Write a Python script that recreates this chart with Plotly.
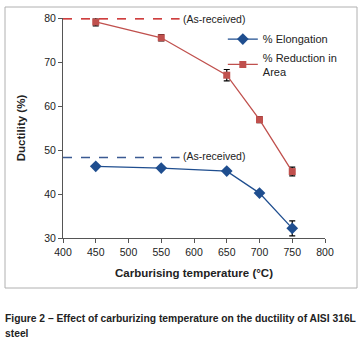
import plotly.graph_objects as go

temps = [450, 550, 650, 700, 750]
elongation = [46.3, 45.9, 45.2, 40.2, 32.2]
elong_err = [0, 0, 0, 0, 1.7]
reduction = [79.1, 75.5, 67.0, 56.9, 45.1]
red_err = [0.9, 0.7, 1.3, 0.7, 1.0]
asrec_reduction = 79.8
asrec_elongation = 48.3
x_ticks = [400, 450, 500, 550, 600, 650, 700, 750, 800]
y_ticks = [30, 40, 50, 60, 70, 80]

BLUE = "#1F4E8F"
RED = "#C0504D"
FONT = "Liberation Sans, Arial, sans-serif"

fig = go.Figure()
fig.add_trace(go.Scatter(
    x=temps, y=elongation, mode="lines+markers", name="% Elongation",
    line=dict(color=BLUE, width=1.3),
    marker=dict(symbol="diamond", size=9, color=BLUE),
    error_y=dict(type="data", array=elong_err, color="black", thickness=1.2, width=3),
))
fig.add_trace(go.Scatter(
    x=temps, y=reduction, mode="lines+markers", name="% Reduction in<br>Area",
    line=dict(color=RED, width=1.3),
    marker=dict(symbol="square", size=7, color=RED),
    error_y=dict(type="data", array=red_err, color="black", thickness=1.2, width=3),
))

# As-received reference lines
fig.add_trace(go.Scatter(x=[400, 578], y=[asrec_reduction] * 2, mode="lines",
                         line=dict(color="#C00000", width=1.3, dash="dash"),
                         showlegend=False, hoverinfo="skip"))
fig.add_trace(go.Scatter(x=[400, 578], y=[asrec_elongation] * 2, mode="lines",
                         line=dict(color="#3A5A92", width=1.3, dash="dash"),
                         showlegend=False, hoverinfo="skip"))
fig.add_annotation(x=580, y=asrec_reduction, text="(As-received)", showarrow=False,
                   xanchor="left", yanchor="middle", font=dict(size=10.5, color="#222"))
fig.add_annotation(x=580, y=asrec_elongation + 0.3, text="(As-received)", showarrow=False,
                   xanchor="left", yanchor="middle", font=dict(size=10.5, color="#222"))

# outer box
fig.add_shape(type="rect", xref="paper", yref="paper",
              x0=-58 / 262, x1=294 / 262, y0=-50 / 220, y1=231 / 220,
              line=dict(color="#B0B0B0", width=1), fillcolor="rgba(0,0,0,0)", layer="below")

# caption
fig.add_annotation(xref="paper", yref="paper", x=-60 / 262, y=-80 / 220,
                   text="<b>Figure 2 – Effect of carburizing temperature on the ductility of AISI 316L</b>",
                   showarrow=False, xanchor="left", yanchor="middle",
                   font=dict(size=10.3, color="#222"))
fig.add_annotation(xref="paper", yref="paper", x=-60 / 262, y=-95 / 220,
                   text="<b>steel</b>", showarrow=False, xanchor="left", yanchor="middle",
                   font=dict(size=10.3, color="#222"))

fig.update_layout(
    width=364, height=341,
    margin=dict(l=63, r=39, t=18, b=103),
    paper_bgcolor="white", plot_bgcolor="white",
    font=dict(family=FONT, size=10.5, color="#222"),
    showlegend=True,
    legend=dict(x=0.61, y=0.97, xanchor="left", yanchor="top",
                bgcolor="rgba(0,0,0,0)", font=dict(size=11), tracegroupgap=9,
                itemwidth=30),
    xaxis=dict(range=[400, 800], tickvals=x_ticks, showgrid=False, zeroline=False,
               showline=True, linecolor="#555", linewidth=1, ticks="outside",
               ticklen=4, tickcolor="#555",
               title=dict(text="<b>Carburising temperature (°C)</b>", font=dict(size=11.5), standoff=12)),
    yaxis=dict(range=[30, 80], tickvals=y_ticks, showgrid=False, zeroline=False,
               showline=True, linecolor="#555", linewidth=1, ticks="outside",
               ticklen=4, tickcolor="#555",
               title=dict(text="<b>Ductility (%)</b>", font=dict(size=11.5), standoff=16)),
)

fig.write_html("out.html", config={"displayModeBar": False},
               post_script="document.body.style.margin='0';")
